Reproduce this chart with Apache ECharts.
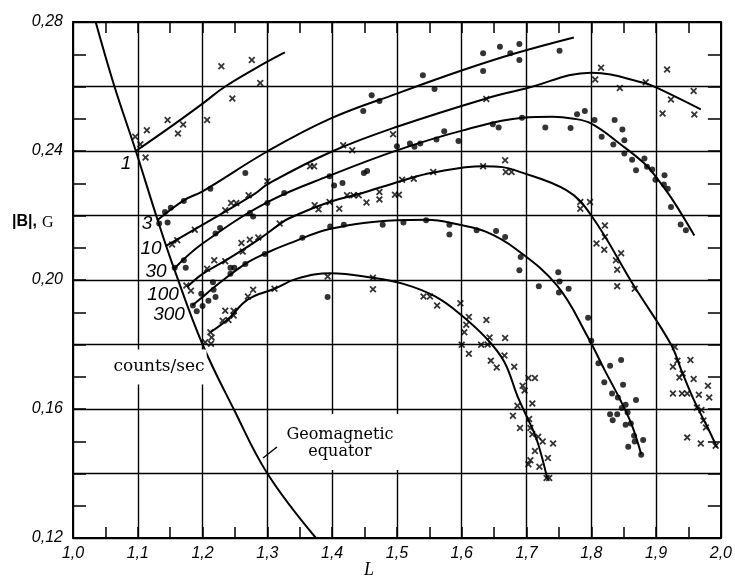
<!DOCTYPE html>
<html><head><meta charset="utf-8">
<script src="https://cdn.jsdelivr.net/npm/echarts@6/dist/echarts.min.js"></script>
<style>html,body{margin:0;padding:0;background:#fff}#c{width:735px;height:580px}</style>
</head><body><div id="c"></div>
<script>
// ---- axes ----
const xMin = 1.0, xMax = 2.0, xStep = 0.1, xMinorStep = 0.05;
const yMin = 0.12, yMax = 0.28, yStep = 0.02, yMinorStep = 0.01, yLabelStep = 0.04;

// ---- fitted curves [L, |B|] ----
const equatorLine = [[1.035,0.28],[1.064,0.26],[1.097,0.24],[1.13,0.219],[1.156,0.2035],[1.2,0.18],[1.248,0.16],[1.3,0.14],[1.375,0.12]];
const curve1 = [[1.097,0.2400],[1.15,0.2474],[1.2,0.2547],[1.235,0.2600],[1.3,0.2677],[1.327,0.2706]];
const curve3 = [[1.130,0.2185],[1.171,0.2247],[1.2,0.2275],[1.301,0.2400],[1.398,0.2501],[1.5,0.2578],[1.602,0.2651],[1.683,0.2703],[1.773,0.2752]];
const curve10 = [[1.143,0.2105],[1.199,0.2170],[1.281,0.2268],[1.301,0.2298],[1.398,0.2397],[1.5,0.2475],[1.638,0.2563],[1.699,0.2594],[1.8,0.2643],[1.882,0.2611],[1.9,0.2597],[1.969,0.2529]];
const curve30 = [[1.156,0.2035],[1.2,0.2113],[1.301,0.2242],[1.398,0.2325],[1.5,0.2402],[1.602,0.2464],[1.694,0.2503],[1.74,0.2506],[1.77,0.2501],[1.8,0.2485],[1.847,0.2418],[1.882,0.2361],[1.9,0.2319],[1.926,0.2247],[1.959,0.2138]];
const curve100 = [[1.176,0.1978],[1.2,0.2019],[1.235,0.2060],[1.281,0.2118],[1.317,0.2170],[1.332,0.2190],[1.396,0.2242],[1.444,0.2268],[1.508,0.2308],[1.556,0.2333],[1.633,0.2353],[1.663,0.2350],[1.683,0.2340],[1.762,0.2278],[1.8,0.2200],[1.867,0.1978],[1.923,0.1800],[1.94,0.1715],[1.959,0.1625],[1.979,0.1545],[1.994,0.1481]];
const curve300 = [[1.184,0.1921],[1.2,0.1947],[1.215,0.1973],[1.266,0.2050],[1.301,0.2086],[1.332,0.2112],[1.398,0.2159],[1.5,0.2185],[1.546,0.2187],[1.597,0.2171],[1.638,0.2149],[1.683,0.2097],[1.747,0.1983],[1.795,0.1822],[1.821,0.1719],[1.844,0.1631],[1.862,0.1553],[1.877,0.1460]];
const curveLow = [[1.212,0.1838],[1.24,0.1880],[1.27,0.1940],[1.311,0.1973],[1.347,0.2005],[1.398,0.2021],[1.46,0.2008],[1.51,0.1988],[1.559,0.1949],[1.6,0.1890],[1.64,0.1815],[1.666,0.1745],[1.686,0.1640],[1.70,0.1578],[1.715,0.1510],[1.732,0.1385]];

// ---- measured points [L, |B|] ----
const crosses1 = [[1.096,0.2444],[1.104,0.2421],[1.112,0.2380],[1.114,0.2464],[1.146,0.2496],[1.162,0.2454],[1.170,0.2482],[1.207,0.2496],[1.229,0.2663],[1.246,0.2563],[1.276,0.2682],[1.289,0.2611]];
const dots3 = [[1.133,0.2175],[1.146,0.2178],[1.142,0.2211],[1.151,0.2224],[1.171,0.2245],[1.212,0.2283],[1.266,0.2332],[1.448,0.2524],[1.461,0.2573],[1.473,0.2555],[1.540,0.2635],[1.558,0.2592],[1.633,0.2703],[1.633,0.2648],[1.659,0.2723],[1.675,0.2703],[1.689,0.2732],[1.689,0.2682],[1.751,0.2711]];
const crosses10 = [[1.153,0.2110],[1.161,0.2123],[1.188,0.2156],[1.235,0.2216],[1.244,0.2239],[1.252,0.2239],[1.271,0.2263],[1.300,0.2306],[1.366,0.2353],[1.372,0.2353],[1.417,0.2418],[1.431,0.2402],[1.494,0.2452],[1.638,0.2561],[1.815,0.2658],[1.806,0.2622],[1.844,0.2595],[1.884,0.2613],[1.917,0.2653],[1.923,0.2560],[1.958,0.2586],[1.910,0.2516],[1.959,0.2513]];
const dots30 = [[1.157,0.2038],[1.174,0.2038],[1.171,0.2061],[1.220,0.2144],[1.227,0.2161],[1.273,0.2208],[1.278,0.2197],[1.300,0.2239],[1.326,0.2270],[1.396,0.2322],[1.403,0.2293],[1.416,0.2301],[1.449,0.2332],[1.454,0.2338],[1.500,0.2415],[1.520,0.2423],[1.527,0.2413],[1.536,0.2423],[1.561,0.2436],[1.573,0.2461],[1.595,0.2431],[1.648,0.2483],[1.657,0.2473],[1.693,0.2503],[1.729,0.2473],[1.768,0.2471],[1.778,0.2514],[1.790,0.2524],[1.805,0.2496],[1.816,0.2444],[1.834,0.2420],[1.836,0.2496],[1.848,0.2467],[1.851,0.2433],[1.851,0.2392],[1.863,0.2373],[1.869,0.2340],[1.882,0.2377],[1.886,0.2351],[1.894,0.2343],[1.899,0.2311],[1.913,0.2325],[1.918,0.2283],[1.912,0.2296],[1.923,0.2226],[1.938,0.2172],[1.946,0.2154]];
const crosses100 = [[1.175,0.1983],[1.182,0.1967],[1.207,0.2035],[1.218,0.2061],[1.235,0.2058],[1.260,0.2115],[1.273,0.2125],[1.286,0.2132],[1.262,0.2088],[1.319,0.2175],[1.379,0.2219],[1.373,0.2232],[1.396,0.2242],[1.411,0.2221],[1.423,0.2263],[1.433,0.2263],[1.441,0.2263],[1.453,0.2240],[1.473,0.2250],[1.473,0.2273],[1.497,0.2264],[1.503,0.2264],[1.508,0.2311],[1.526,0.2314],[1.556,0.2335],[1.633,0.2353],[1.667,0.2371],[1.668,0.2335],[1.677,0.2335],[1.783,0.2242],[1.798,0.2242],[1.783,0.2221],[1.821,0.2169],[1.821,0.2133],[1.808,0.2113],[1.820,0.2094],[1.846,0.2083],[1.838,0.2061],[1.840,0.2032],[1.840,0.1981],[1.867,0.1973],[1.929,0.1792],[1.933,0.1750],[1.926,0.1731],[1.953,0.1752],[1.941,0.1710],[1.936,0.1698],[1.958,0.1693],[1.980,0.1672],[1.926,0.1648],[1.940,0.1648],[1.948,0.1648],[1.966,0.1644],[1.982,0.1636],[1.963,0.1605],[1.970,0.1597],[1.973,0.1564],[1.977,0.1543],[1.948,0.1512],[1.969,0.1493],[1.992,0.1486]];
const dots300 = [[1.185,0.1921],[1.191,0.1903],[1.200,0.1919],[1.198,0.1957],[1.209,0.1936],[1.220,0.1947],[1.217,0.1970],[1.216,0.1993],[1.243,0.2038],[1.249,0.2038],[1.243,0.2019],[1.266,0.2050],[1.296,0.2081],[1.354,0.2131],[1.397,0.2166],[1.418,0.2171],[1.478,0.2171],[1.510,0.2178],[1.545,0.2185],[1.581,0.2171],[1.581,0.2141],[1.623,0.2154],[1.653,0.2152],[1.667,0.2133],[1.393,0.1947],[1.691,0.2071],[1.689,0.2030],[1.749,0.2024],[1.751,0.1995],[1.719,0.1981],[1.765,0.1973],[1.750,0.1961],[1.795,0.1883],[1.800,0.1812],[1.811,0.1742],[1.829,0.1734],[1.846,0.1752],[1.820,0.1683],[1.832,0.1648],[1.849,0.1675],[1.869,0.1628],[1.841,0.1636],[1.847,0.1603],[1.853,0.1613],[1.856,0.1589],[1.829,0.1584],[1.833,0.1565],[1.840,0.1584],[1.861,0.1555],[1.853,0.1551],[1.866,0.1517],[1.867,0.1499],[1.880,0.1504],[1.857,0.1483],[1.877,0.1458]];
const crossesLow = [[1.212,0.1838],[1.214,0.1822],[1.213,0.1802],[1.204,0.1807],[1.235,0.1905],[1.231,0.1874],[1.240,0.1876],[1.248,0.1890],[1.248,0.1905],[1.270,0.1949],[1.278,0.1970],[1.311,0.1973],[1.393,0.2011],[1.463,0.2007],[1.463,0.1971],[1.541,0.1949],[1.551,0.1949],[1.562,0.1921],[1.598,0.1928],[1.611,0.1885],[1.607,0.1861],[1.604,0.1838],[1.638,0.1876],[1.643,0.1822],[1.667,0.1820],[1.600,0.1799],[1.611,0.1771],[1.630,0.1799],[1.640,0.1800],[1.645,0.1750],[1.654,0.1729],[1.666,0.1766],[1.681,0.1731],[1.694,0.1672],[1.703,0.1696],[1.713,0.1696],[1.697,0.1657],[1.709,0.1617],[1.686,0.1610],[1.679,0.1579],[1.690,0.1541],[1.704,0.1569],[1.706,0.1541],[1.709,0.1522],[1.718,0.1514],[1.725,0.1499],[1.741,0.1493],[1.713,0.1470],[1.706,0.1441],[1.703,0.1429],[1.720,0.1421],[1.733,0.1448],[1.731,0.1386],[1.735,0.1386]];

// ---- annotation texts ----
const curveLabels = ['1', '3', '10', '30', '100', '300'];
const unitText = 'counts/sec';
const equatorText = ['Geomagnetic', 'equator'];

const chart = echarts.init(document.getElementById('c'));
const decComma = (v, d) => v.toFixed(d).replace('.', ',');
const XMARK = 'path://M0,1.8L1.8,0L5,3.2L8.2,0L10,1.8L6.8,5L10,8.2L8.2,10L5,6.8L1.8,10L0,8.2L3.2,5Z';
const labelFont = {fontStyle: 'italic', fontFamily: 'Liberation Sans', fontSize: 16, color: '#000'};
const blackLine = (w) => ({color: '#000', width: w});

function mainAxis(min, max, interval, position, withLabels, labelExtra) {
  return {
    type: 'value', min, max, interval, position,
    axisLine: {show: true, onZero: false, lineStyle: blackLine(2)},
    axisTick: {show: false},
    splitLine: {show: withLabels, lineStyle: blackLine(1.4)},
    axisLabel: withLabels ? Object.assign({}, labelFont, labelExtra) : {show: false}
  };
}
function tickAxis(min, max, interval, position, len) {
  return {
    type: 'value', min, max, interval, position,
    axisLine: {show: false, onZero: false},
    axisTick: {show: true, inside: true, length: len, lineStyle: blackLine(1.5)},
    splitLine: {show: false}, axisLabel: {show: false}
  };
}

const lineSeries = (data) => ({
  type: 'line', data, smooth: 0.4, showSymbol: false, symbol: 'none',
  lineStyle: {color: '#000', width: 2}, z: 3, silent: true
});
const dotSeries = (data) => ({
  type: 'scatter', data, symbol: 'circle', symbolSize: 6,
  itemStyle: {color: '#000'}, z: 4, silent: true
});
const crossSeries = (data) => ({
  type: 'scatter', data, symbol: XMARK, symbolSize: 7,
  itemStyle: {color: '#000'}, z: 4, silent: true
});

const textEl = (text, x, y, font, extra) => ({
  type: 'text', z: 100,
  style: Object.assign({text, x, y, font, fill: '#000', align: 'center', verticalAlign: 'middle'}, extra || {})
});

const labelPos = [[126,164],[147,224],[151,249],[156,272],[163,295],[169,315]];

chart.setOption({
  animation: false,
  backgroundColor: '#fff',
  grid: {left: 73, right: 8, top: 22, bottom: 42},
  xAxis: [
    mainAxis(xMin, xMax, xStep, 'bottom', true, {margin: 8, formatter: v => decComma(v, 1)}),
    mainAxis(xMin, xMax, xStep, 'top', false),
    tickAxis(xMin, xMax, xMinorStep, 'bottom', 11),
    tickAxis(xMin, xMax, xMinorStep, 'top', 11)
  ],
  yAxis: [
    mainAxis(yMin, yMax, yStep, 'left', true, {margin: 10, formatter: v => {
      const k = Math.round((v - yMin) / yLabelStep * 1000) / 1000;
      return Number.isInteger(k) ? decComma(v, 2) : '';
    }}),
    mainAxis(yMin, yMax, yStep, 'right', false),
    tickAxis(yMin, yMax, yMinorStep, 'left', 13),
    tickAxis(yMin, yMax, yMinorStep, 'right', 13)
  ],
  series: [
    lineSeries(equatorLine),
    lineSeries(curve1), lineSeries(curve3), lineSeries(curve10),
    lineSeries(curve30), lineSeries(curve100), lineSeries(curve300), lineSeries(curveLow),
    crossSeries(crosses1), dotSeries(dots3), crossSeries(crosses10),
    dotSeries(dots30), crossSeries(crosses100), dotSeries(dots300), crossSeries(crossesLow)
  ],
  graphic: [
    ...curveLabels.map((t, i) => textEl(t, labelPos[i][0], labelPos[i][1], 'italic 19px "Liberation Sans"')),
    textEl(unitText, 159, 367, '17px "DejaVu Serif"', {backgroundColor: '#fff', padding: [8, 2, 10, 2]}),
    {type: 'rect', z: 99, shape: {x: 284, y: 414, width: 119, height: 56}, style: {fill: '#fff'}},
    textEl(equatorText[0], 340, 435, '16px "DejaVu Serif"'),
    textEl(equatorText[1], 340, 452, '16px "DejaVu Serif"'),
    {type: 'line', z: 100, shape: {x1: 263, y1: 458, x2: 277, y2: 447}, style: {stroke: '#000', lineWidth: 1.5}},
    textEl('|B|,', 12, 222, 'bold 16px "Liberation Sans"', {align: 'left'}),
    textEl('G', 42, 223, '16px "Liberation Serif"', {align: 'left'}),
    textEl('L', 369, 570, 'italic 18px "Liberation Serif"')
  ]
});
</script></body></html>
